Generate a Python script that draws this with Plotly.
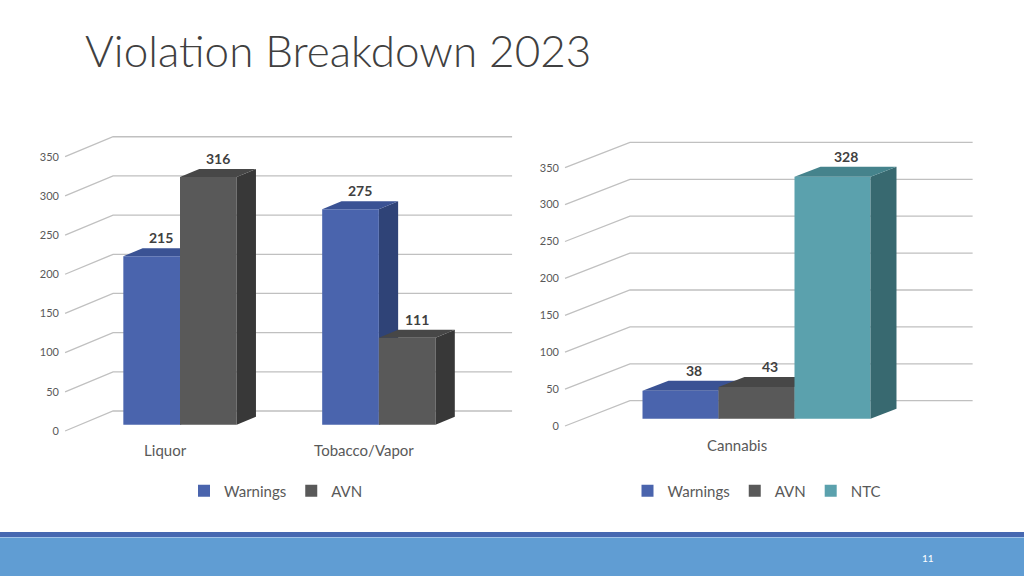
import plotly.graph_objects as go

# ---------------- data ----------------
left_categories = ["Liquor", "Tobacco/Vapor"]
left_warnings = [215, 275]
left_avn = [316, 111]

right_categories = ["Cannabis"]
right_warnings = [38]
right_avn = [43]
right_ntc = [328]

y_ticks = [0, 50, 100, 150, 200, 250, 300, 350]

# ---------------- styles ----------------
FONT = "Lato"
COLORS = {
    "Warnings": ("#4a64ad", "#2f4377", "#3a5294"),   # front, side, top
    "AVN": ("#595959", "#383838", "#474747"),
    "NTC": ("#5ba1ad", "#386970", "#45838c"),
}
GRID = "#c0c0c0"

# 3-D geometry per panel (data units of each panel's axes)
panels = {
    "left": dict(xa="x", ya="y", legend="legend", w=0.285,
                 fx=0.075, fu=8.0, bdx=0.097, bdu=10.2,
                 Dx=0.2414, Du=25.5, gx0=-0.578, gx1=1.67),
    "right": dict(xa="x2", ya="y2", legend="legend2", w=0.25,
                  fx=0.064, fu=9.9, bdx=0.0855, bdu=13.5,
                  Dx=0.2138, Du=34.3, gx0=-0.63, gx1=0.711),
}

fig = go.Figure()
shapes_grid = []
shapes_below = []
shapes_above = []
annotations = []


def add_panel(p, categories, series):
    g = panels[p]
    xr, yr = g["xa"], g["ya"]
    # gridlines (floor edge -> back wall -> right)
    for t in y_ticks:
        path = (f"M {g['gx0']},{t} L {g['gx0'] + g['Dx']},{t + g['Du']} "
                f"L {g['gx1']},{t + g['Du']}")
        shapes_grid.append(dict(type="path", path=path, xref=xr, yref=yr,
                                line=dict(color=GRID, width=1.3), layer="below"))
    n = len(series)
    for k, (name, vals) in enumerate(series):
        front, side, top = COLORS[name]
        offset = -n * g["w"] / 2 + k * g["w"]
        xs = list(range(len(categories)))
        fig.add_trace(go.Bar(
            x=xs, y=vals, base=g["fu"], offset=offset, width=g["w"],
            marker=dict(color=front, line=dict(width=0)),
            name=name, legend=g["legend"], xaxis=xr, yaxis=yr,
            hoverinfo="skip",
        ))
        last = (k == n - 1)
        target = shapes_above if last else shapes_below
        for i, v in enumerate(vals):
            xl = i + offset
            xrt = xl + g["w"]
            b = g["fu"]
            tp = b + v
            side_path = (f"M {xrt},{b} L {xrt},{tp} L {xrt + g['bdx']},{tp + g['bdu']} "
                         f"L {xrt + g['bdx']},{b + g['bdu']} Z")
            top_path = (f"M {xl},{tp} L {xrt},{tp} L {xrt + g['bdx']},{tp + g['bdu']} "
                        f"L {xl + g['bdx']},{tp + g['bdu']} Z")
            for pth, col in ((side_path, side), (top_path, top)):
                target.append(dict(type="path", path=pth, xref=xr, yref=yr,
                                   fillcolor=col, line=dict(width=0),
                                   layer="above" if last else "below"))
            annotations.append(dict(
                x=(xl + xrt) / 2 + g["bdx"] / 2, y=tp + g["bdu"], xref=xr, yref=yr,
                text=f"<b>{v}</b>", showarrow=False, yanchor="bottom", xanchor="center",
                font=dict(family=FONT, size=14, color="#404040"),
            ))
    return [i - g["fx"] for i in range(len(categories))]


left_tickpos = add_panel("left", left_categories,
                         [("Warnings", left_warnings), ("AVN", left_avn)])
right_tickpos = add_panel("right", right_categories,
                          [("Warnings", right_warnings), ("AVN", right_avn), ("NTC", right_ntc)])

# footer band
band = [
    dict(type="rect", xref="paper", yref="paper", x0=0, x1=1, y0=1 - 537 / 576, y1=1 - 532 / 576,
         fillcolor="#4668b1", line=dict(width=0), layer="above"),
    dict(type="rect", xref="paper", yref="paper", x0=0, x1=1, y0=0, y1=1 - 537 / 576,
         fillcolor="#609dd3", line=dict(width=0), layer="above"),
    dict(type="rect", xref="paper", yref="paper", x0=0, x1=1, y0=1 - 538 / 576, y1=1 - 537 / 576,
         fillcolor="#9fc3e8", line=dict(width=0), layer="above"),
]
annotations.append(dict(x=928 / 1024, y=1 - 558 / 576, xref="paper", yref="paper",
                        text="11", showarrow=False, xanchor="center", yanchor="middle",
                        font=dict(family=FONT, size=10, color="#ffffff")))

axis_common = dict(showgrid=False, zeroline=False, showline=False, fixedrange=True)
tickfont = dict(family=FONT, size=11, color="#595959")
catfont = dict(family=FONT, size=15, color="#595959")
legfont = dict(family=FONT, size=15, color="#595959")

fig.update_layout(
    width=1024, height=576,
    margin=dict(l=0, r=0, t=0, b=0),
    paper_bgcolor="white", plot_bgcolor="rgba(0,0,0,0)",
    barmode="overlay",
    title=dict(text="Violation Breakdown 2023", x=85 / 1024, xanchor="left",
               y=1 - 52 / 576, yanchor="middle",
               font=dict(family=FONT, size=44, color="#404040", weight=300)),
    xaxis=dict(domain=[60 / 1024, 515 / 1024], range=[-0.6035, 1.6847],
               tickvals=left_tickpos, ticktext=left_categories, tickfont=catfont,
               anchor="y", **axis_common),
    yaxis=dict(domain=[1 - 440 / 576, 1 - 130 / 576], range=[-11.48, 384.1],
               tickvals=y_ticks, tickfont=tickfont, anchor="x", **axis_common),
    xaxis2=dict(domain=[560 / 1024, 980 / 1024], range=[-0.6464, 0.7352],
                tickvals=right_tickpos, ticktext=right_categories, tickfont=catfont,
                anchor="y2", **axis_common),
    yaxis2=dict(domain=[1 - 435 / 576, 1 - 130 / 576], range=[-12.2, 401.1],
                tickvals=y_ticks, tickfont=tickfont, anchor="x2", **axis_common),
    legend=dict(orientation="h", x=276 / 1024, xanchor="center", y=1 - 491 / 576,
                yanchor="middle", font=legfont, itemwidth=30, bgcolor="rgba(0,0,0,0)"),
    legend2=dict(orientation="h", x=757 / 1024, xanchor="center", y=1 - 491 / 576,
                 yanchor="middle", font=legfont, itemwidth=30, bgcolor="rgba(0,0,0,0)"),
    shapes=shapes_grid + shapes_below + shapes_above + band,
    annotations=annotations,
    showlegend=True,
)

fig.write_html(
    "out.html",
    config={"displayModeBar": False, "staticPlot": False},
    post_script="document.body.style.margin='0';document.body.style.overflow='hidden';",
)
